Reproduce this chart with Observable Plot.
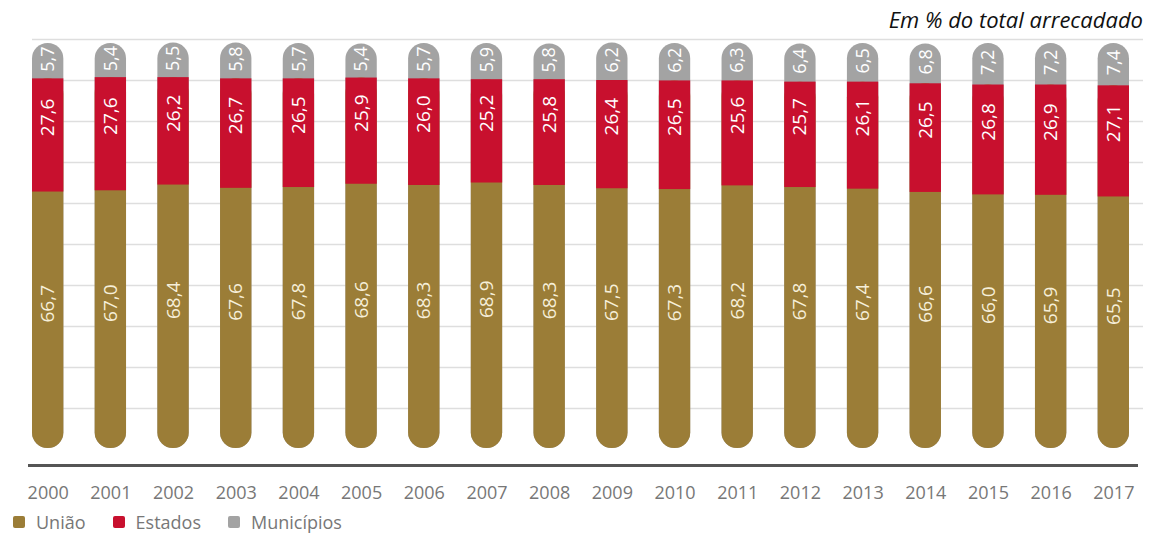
<!DOCTYPE html>
<html><head><meta charset="utf-8">
<script src="https://cdn.jsdelivr.net/npm/d3@7"></script>
<script src="https://cdn.jsdelivr.net/npm/@observablehq/plot@0.6"></script>
<style>
body{margin:0;background:#fff;width:1150px;height:555px;overflow:hidden;font-family:"Open Sans",sans-serif}
#title{height:34px;line-height:38px;text-align:right;padding-right:7px;font-style:italic;font-size:22px;color:#111}
#chart svg{display:block}
#legend{display:flex;align-items:center;height:26px;padding-left:13px;font-size:18px;color:#777}
.item{display:flex;align-items:center;margin-right:27px}
.sw{width:12px;height:12px;border-radius:2px;margin-right:11px}
</style></head><body>
<div id="title">Em % do total arrecadado</div>
<div id="chart"></div>
<div id="legend"></div>
<script>
const years = [2000,2001,2002,2003,2004,2005,2006,2007,2008,2009,2010,2011,2012,2013,2014,2015,2016,2017];
const uniao = [66.7,67.0,68.4,67.6,67.8,68.6,68.3,68.9,68.3,67.5,67.3,68.2,67.8,67.4,66.6,66.0,65.9,65.5];
const estados = [27.6,27.6,26.2,26.7,26.5,25.9,26.0,25.2,25.8,26.4,26.5,25.6,25.7,26.1,26.5,26.8,26.9,27.1];
const municipios = [5.7,5.4,5.5,5.8,5.7,5.4,5.7,5.9,5.8,6.2,6.2,6.3,6.4,6.5,6.8,7.2,7.2,7.4];
const seriesNames = ["União","Estados","Municípios"];
const seriesColors = ["#9b7d37","#c8102e","#a3a3a3"];
const gridTicks = [10,20,30,40,50,60,70,80,90,100];

const fmt = v => d3.format(".1f")(v).replace(".", ",");
const rows = years.map((y, i) => ({
  year: String(y),
  u: uniao[i], e: estados[i], m: municipios[i],
  s1: uniao[i], s2: uniao[i] + estados[i],
  total: uniao[i] + estados[i] + municipios[i]
}));

const chart = Plot.plot({
  width: 1150, height: 475,
  marginTop: 21, marginBottom: 44, marginLeft: 32, marginRight: 21,
  style: {fontFamily: "Open Sans", color: "#777", background: "transparent"},
  x: {domain: years.map(String), paddingInner: 0.5, paddingOuter: 0, round: false, axis: null},
  y: {domain: [0, 100], axis: null},
  marks: [
    Plot.ruleY(gridTicks, {dy: -16, stroke: "#dedede", strokeWidth: 1.5, insetLeft: 0, insetRight: -14}),
    Plot.barY(rows, {x: "year", y1: 0, y2: "total", fill: seriesColors[2], rx: 15.5, insetTop: -12, insetBottom: 17}),
    Plot.barY(rows, {x: "year", y1: 0, y2: "s2", fill: seriesColors[0], rx: 15.5, insetBottom: 17}),
    Plot.barY(rows, {x: "year", y1: "s1", y2: "s2", fill: seriesColors[1]}),
    Plot.text(rows, {x: "year", y: d => d.u / 2, dy: -25, text: d => fmt(d.u), rotate: -90, fill: "#f6efd9", fontSize: 19}),
    Plot.text(rows, {x: "year", y: d => d.s1 + d.e / 2, dy: -18, text: d => fmt(d.e), rotate: -90, fill: "#ffffff", fontSize: 19}),
    Plot.text(rows, {x: "year", y: d => d.s2 + d.m / 2, dy: -8, text: d => fmt(d.m), rotate: -90, fill: "#ffffff", fontSize: 18}),
    Plot.ruleY([0], {stroke: "#555", strokeWidth: 3, insetLeft: -4, insetRight: -9}),
    Plot.axisX({label: null, tickSize: 0, tickPadding: 21, fontSize: 18, fill: "#777"})
  ]
});
document.getElementById("chart").appendChild(chart);

const legend = document.getElementById("legend");
seriesNames.forEach((name, i) => {
  const item = document.createElement("div");
  item.className = "item";
  const sw = document.createElement("span");
  sw.className = "sw";
  sw.style.background = seriesColors[i];
  const lab = document.createElement("span");
  lab.textContent = name;
  item.appendChild(sw); item.appendChild(lab);
  legend.appendChild(item);
});
</script>
</body></html>
